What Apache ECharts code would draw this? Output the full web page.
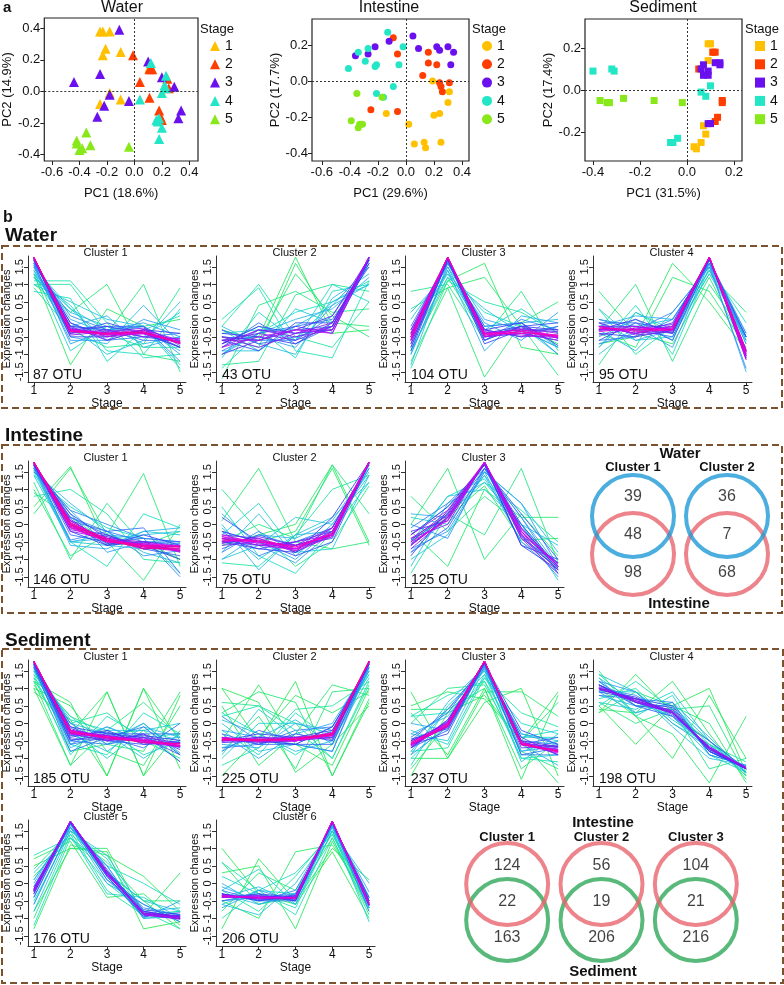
<!DOCTYPE html>
<html><head><meta charset="utf-8">
<script src="https://cdn.jsdelivr.net/npm/echarts@6/dist/echarts.min.js"></script>
<style>html,body{margin:0;padding:0;background:#fff}#c{width:784px;height:985px}</style>
</head><body><div id="c"></div>
<script>
// ---------------- DATA ----------------
const stages = ['1','2','3','4','5'];
const stageLabels = [1,2,3,4,5];
// PCoA points per stage [PC1, PC2]
const waterPC = [
  [[-0.25,0.38],[-0.23,0.38],[-0.18,0.38],[-0.21,0.27],[-0.23,0.23],[-0.10,0.25],[-0.18,-0.01],[-0.25,-0.08],[-0.10,-0.05],[0.11,0.15]],
  [[-0.01,0.23],[0.04,0.06],[0.11,0.14],[0.13,0.14],[0.11,-0.04],[0.18,-0.12],[0.20,-0.18],[0.24,0.08],[0.25,0.02],[0.19,-0.16]],
  [[-0.11,0.39],[-0.44,0.06],[-0.25,0.11],[-0.18,-0.02],[-0.22,-0.09],[-0.04,-0.06],[-0.27,-0.16],[0.10,0.19],[0.20,0.09],[0.29,0.03],[0.34,-0.12],[0.32,-0.17]],
  [[0.12,0.18],[0.23,0.10],[0.04,-0.05],[0.20,-0.01],[0.23,0.02],[0.16,-0.18],[0.17,-0.19],[0.20,-0.23],[0.18,-0.30],[0.22,0.04],[0.18,-0.17]],
  [[-0.35,-0.26],[-0.42,-0.31],[-0.42,-0.33],[-0.40,-0.37],[-0.38,-0.36],[-0.32,-0.34],[-0.04,-0.35]]
];
const intestinePC = [
  [[0.19,0.0],[0.31,-0.06],[0.30,-0.12],[0.24,-0.18],[0.20,-0.19],[-0.14,-0.18],[0.02,-0.24],[0.06,-0.35],[0.13,-0.34],[0.14,-0.37],[0.25,-0.34]],
  [[-0.09,0.24],[-0.06,0.15],[0.16,0.16],[0.16,0.10],[0.22,0.09],[0.12,0.03],[0.24,-0.01],[0.25,-0.03],[0.26,-0.06],[0.31,-0.01],[-0.25,-0.16],[-0.06,-0.17]],
  [[-0.36,0.14],[-0.27,0.15],[-0.22,0.19],[-0.12,0.22],[0.05,0.25],[0.09,0.18],[0.22,0.19],[0.24,0.17],[0.30,0.19],[0.34,0.16],[0.32,0.09]],
  [[-0.41,0.07],[-0.34,0.16],[-0.27,0.18],[-0.29,0.11],[-0.21,0.09],[-0.22,0.08],[-0.13,0.27],[-0.02,0.19],[-0.05,0.09],[-0.09,-0.03],[-0.21,-0.07],[-0.16,-0.09]],
  [[-0.35,-0.07],[-0.17,-0.09],[-0.39,-0.22],[-0.33,-0.24],[-0.31,-0.24],[-0.34,-0.26]]
];
const sedimentPC = [
  [[0.09,0.22],[0.10,0.22],[0.11,0.18],[0.09,0.14],[0.07,-0.17],[0.08,-0.21],[0.03,-0.27],[0.04,-0.28],[0.06,-0.25]],
  [[0.11,0.18],[0.12,0.18],[0.05,0.10],[0.15,-0.05],[0.15,-0.06],[0.13,-0.13],[0.12,-0.15]],
  [[0.06,0.10],[0.07,0.12],[0.09,0.09],[0.07,0.07],[0.09,0.07],[0.12,0.13],[0.14,0.13],[0.14,0.12],[0.09,-0.16],[0.10,-0.16]],
  [[-0.40,0.09],[-0.32,0.10],[-0.31,0.09],[0.10,0.02],[0.06,-0.01],[0.08,-0.03],[-0.04,-0.23],[-0.07,-0.25],[-0.06,-0.25]],
  [[-0.37,-0.05],[-0.34,-0.06],[-0.33,-0.06],[-0.27,-0.04],[-0.14,-0.05],[-0.02,-0.06]]
];
const pcWaterX = [-0.6,-0.4,-0.2,0,0.2,0.4], pcWaterY = [-0.4,-0.2,0,0.2,0.4];
const pcIntX = [-0.6,-0.4,-0.2,0,0.2,0.4], pcIntY = [-0.4,-0.2,0,0.2];
const pcSedX = [-0.4,-0.2,0,0.2], pcSedY = [-0.2,0,0.2];

// Cluster profiles: each row = [membership, stage1..stage5]
const waterC1 = [[0.05,1.3,-1.3,0.3,-0.2,0.0],[0.08,1.0,0.2,1.0,-1.0,-1.2],[0.10,1.2,-0.3,-0.4,1.0,-1.5],[0.12,0.9,-0.3,-0.8,-0.7,0.9],[0.15,1.0,1.0,-0.4,-0.8,-0.8],[0.18,1.1,1.1,-0.1,-1.1,-1.0],[0.2,0.8,0.6,-1.2,-0.3,0.1],[0.22,1.2,0.4,-0.9,-1.0,0.3],[0.25,1.4,-0.9,-0.2,-0.5,0.2],[0.28,1.3,0.3,-0.3,-0.2,-1.4],[0.3,1.5,0.3,-0.6,-0.3,-0.9],[0.3,1.0,0.5,0.0,-0.2,-1.3],[0.32,1.3,-0.2,-1.0,-0.6,0.5],[0.33,1.2,0.2,-0.2,-0.7,-0.5],[0.35,1.5,-0.5,-0.7,0.4,-0.7],[0.38,1.4,-0.2,0.1,-0.8,-0.5],[0.4,1.6,0.0,-0.4,-0.2,-1.0],[0.42,1.6,-0.7,-0.3,-0.1,-0.5],[0.42,1.5,-0.6,-0.6,0.0,-0.3],[0.45,1.6,0.1,-0.3,-0.2,-1.2],[0.47,1.6,-0.1,-0.6,-0.5,-0.4],[0.5,1.7,-0.2,-0.3,-0.6,-0.6],[0.5,1.55,-0.4,-0.2,-0.2,-0.75],[0.52,1.65,-0.2,-0.3,-0.5,-0.65],[0.55,1.7,-0.4,-0.1,-0.4,-0.8],[0.57,1.7,-0.5,-0.5,-0.3,-0.4],[0.6,1.7,-0.1,-0.5,-0.3,-0.8],[0.62,1.7,-0.3,-0.2,-0.4,-0.8],[0.65,1.75,-0.3,-0.4,-0.4,-0.65],[0.67,1.72,-0.25,-0.45,-0.35,-0.67],[0.7,1.75,-0.2,-0.6,-0.3,-0.6],[0.72,1.74,-0.45,-0.35,-0.25,-0.69],[0.75,1.76,-0.4,-0.3,-0.5,-0.55],[0.78,1.76,-0.28,-0.38,-0.42,-0.68],[0.8,1.77,-0.3,-0.5,-0.4,-0.6],[0.82,1.77,-0.32,-0.42,-0.38,-0.65],[0.85,1.77,-0.35,-0.4,-0.3,-0.7],[0.88,1.77,-0.3,-0.4,-0.4,-0.67],[0.9,1.78,-0.3,-0.45,-0.4,-0.65],[0.92,1.78,-0.33,-0.43,-0.37,-0.65],[0.95,1.78,-0.35,-0.4,-0.35,-0.7]];
const waterC2 = [[0.05,-0.6,-0.5,1.78,-0.4,-0.3],[0.07,-0.5,-0.8,1.6,-0.1,-0.2],[0.08,-0.3,-0.6,1.3,0.1,-0.5],[0.1,-1.7,0.4,0.8,0.2,0.3],[0.12,-1.3,-1.2,0.7,1.0,0.8],[0.15,-0.2,1.0,-0.5,-0.8,0.5],[0.18,0.0,0.9,-0.9,-1.1,1.1],[0.2,-1.4,-0.4,0.2,0.5,1.1],[0.22,-0.4,-0.3,-1.1,0.8,1.0],[0.25,-1.1,0.2,-0.6,1.0,0.5],[0.28,-0.7,-0.2,-0.6,0.5,1.0],[0.3,-0.9,-0.9,0.3,-0.1,1.6],[0.32,-0.3,-0.9,-0.2,0.4,1.0],[0.35,-0.2,-0.7,-1.0,0.6,1.3],[0.36,-1.0,-0.4,0.0,0.3,1.2],[0.4,-1.0,-0.3,-0.3,-0.2,1.7],[0.42,-0.6,-0.5,-0.8,0.4,1.5],[0.45,-0.5,-0.6,-0.6,0.1,1.6],[0.48,-0.9,-0.4,-0.2,0.0,1.5],[0.5,-0.8,-0.1,-0.7,-0.2,1.7],[0.52,-0.3,-0.7,-0.5,-0.2,1.7],[0.55,-0.6,-0.9,-0.1,-0.1,1.7],[0.58,-0.7,-0.2,-0.4,-0.3,1.6],[0.6,-0.4,-0.5,-0.7,-0.1,1.75],[0.62,-0.5,-0.6,-0.2,-0.4,1.7],[0.65,-1.0,-0.6,-0.3,0.1,1.75],[0.68,-0.6,-0.4,-0.6,-0.2,1.78],[0.7,-0.7,-0.3,-0.5,-0.3,1.78],[0.72,-0.8,-0.3,-0.4,-0.2,1.78],[0.75,-0.5,-0.8,-0.4,-0.1,1.78],[0.78,-0.6,-0.6,-0.3,-0.3,1.78],[0.8,-0.8,-0.5,-0.3,-0.4,1.78]];
const waterC3 = [[0.05,-0.9,1.1,1.6,-0.8,-1.0],[0.07,-1.2,0.9,1.2,-0.2,-0.7],[0.08,0.3,0.9,-1.65,-0.1,0.5],[0.1,-0.6,1.2,-0.5,0.8,-0.9],[0.12,0.8,1.0,-0.6,-0.2,-1.6],[0.15,-1.4,1.1,0.5,0.2,-0.4],[0.2,-0.3,1.3,0.2,-0.2,-1.0],[0.25,-1.0,1.4,-0.3,0.3,-0.4],[0.3,0.0,1.5,-0.6,-0.1,-0.8],[0.3,-0.9,1.2,0.3,-0.4,-0.2],[0.33,0.2,1.3,-0.4,-0.3,-0.8],[0.35,-1.3,1.6,-0.2,-0.1,0.0],[0.38,-0.5,1.4,-0.9,0.1,-0.1],[0.4,-0.5,1.6,0.0,-0.3,-0.8],[0.42,-1.0,1.5,-0.1,-0.6,0.2],[0.45,-0.8,1.7,-0.6,0.0,-0.3],[0.47,-0.3,1.6,-0.2,-0.1,-1.0],[0.5,-0.2,1.7,-0.5,-0.4,-0.6],[0.52,-0.7,1.65,-0.3,-0.5,-0.2],[0.55,-0.9,1.7,-0.5,-0.2,-0.1],[0.57,-0.4,1.7,-0.7,-0.3,-0.3],[0.6,-0.6,1.75,-0.3,-0.1,-0.75],[0.62,-0.8,1.72,-0.4,-0.2,-0.3],[0.65,-0.4,1.75,-0.6,-0.2,-0.55],[0.67,-0.5,1.74,-0.3,-0.5,-0.45],[0.7,-0.7,1.76,-0.4,-0.3,-0.35],[0.72,-0.6,1.76,-0.5,-0.25,-0.4],[0.75,-0.3,1.77,-0.5,-0.4,-0.6],[0.78,-0.45,1.77,-0.35,-0.45,-0.52],[0.8,-0.6,1.78,-0.4,-0.3,-0.5],[0.82,-0.4,1.78,-0.5,-0.35,-0.53],[0.85,-0.5,1.78,-0.45,-0.35,-0.5],[0.88,-0.6,1.78,-0.42,-0.3,-0.46],[0.9,-0.55,1.78,-0.4,-0.4,-0.45],[0.93,-0.5,1.78,-0.45,-0.35,-0.48]];
const waterC4 = [[0.05,-0.7,-0.5,1.6,0.5,-0.9],[0.07,-0.4,-0.8,1.2,0.8,-0.8],[0.08,0.8,-0.4,-0.7,1.2,-0.9],[0.1,-0.3,1.0,-1.2,1.0,-0.5],[0.12,-1.3,0.2,-0.4,1.3,0.2],[0.15,0.3,-1.0,-0.2,1.4,-0.5],[0.2,-0.8,0.4,-1.0,1.5,-0.1],[0.25,-0.2,-0.3,-0.4,1.6,-0.7],[0.28,0.3,-0.6,-0.5,1.3,-0.5],[0.3,-1.0,-0.2,0.0,1.6,-0.4],[0.32,-0.8,0.2,-0.3,1.4,-0.5],[0.35,-0.5,0.0,-0.6,1.7,-0.6],[0.36,-0.3,-0.9,0.2,1.5,-0.5],[0.4,-0.1,-0.6,-0.3,1.7,-0.7],[0.4,-0.2,0.1,0.0,1.6,-1.5],[0.42,0.0,-0.2,-0.8,1.6,-0.6],[0.45,-0.7,-0.4,-0.2,1.7,-0.4],[0.45,0.0,-0.3,0.2,1.5,-1.4],[0.47,-0.6,-0.5,0.0,1.6,-0.5],[0.5,-0.3,-0.3,-0.5,1.75,-0.95],[0.52,-0.1,-0.1,-0.6,1.7,-0.9],[0.55,-0.6,-0.1,-0.3,1.75,-1.05],[0.57,-0.4,-0.5,-0.3,1.7,-0.5],[0.6,-0.2,-0.4,-0.1,1.75,-1.15],[0.62,-0.3,0.0,-0.4,1.75,-1.05],[0.65,-0.2,-0.2,-0.4,1.78,-1.0],[0.67,-0.45,-0.25,-0.15,1.76,-0.9],[0.7,-0.3,-0.3,-0.2,1.78,-1.1],[0.72,-0.1,-0.45,-0.35,1.77,-0.87],[0.75,-0.2,-0.4,-0.3,1.78,-1.05],[0.78,-0.3,-0.3,-0.25,1.78,-0.93],[0.8,-0.3,-0.2,-0.3,1.78,-1.15],[0.82,-0.2,-0.4,-0.2,1.78,-0.98],[0.85,-0.25,-0.3,-0.25,1.78,-1.1],[0.88,-0.35,-0.25,-0.3,1.78,-0.88],[0.9,-0.2,-0.35,-0.3,1.78,-1.0],[0.93,-0.25,-0.3,-0.3,1.78,-0.93]];
const intestineC1 = [[0.05,0.5,1.65,-0.6,-0.5,-1.0],[0.07,0.3,1.6,-0.3,-0.6,-1.0],[0.08,1.0,-0.9,-0.3,1.45,-1.2],[0.1,0.9,0.2,-0.5,-1.6,0.0],[0.12,1.2,-1.0,0.6,-0.6,-0.2],[0.15,0.8,1.0,0.3,-1.0,-1.1],[0.2,1.5,-0.5,-1.2,0.3,-0.1],[0.25,1.4,0.5,-0.1,-0.4,-1.4],[0.3,1.6,-0.5,-0.6,-0.2,-0.3],[0.3,1.4,-0.5,-0.4,-0.3,-0.2],[0.34,1.5,0.6,-0.2,-0.8,-1.1],[0.35,1.6,0.4,-0.6,-0.7,-0.7],[0.38,1.6,-0.6,-0.7,-0.2,-0.1],[0.4,1.7,-0.5,-0.3,-0.4,-0.5],[0.42,1.55,0.3,-0.8,-0.5,-0.55],[0.45,1.65,0.2,-0.2,-0.9,-0.75],[0.45,1.5,0.4,0.0,-0.4,-1.5],[0.47,1.65,-0.45,-0.2,-0.5,-0.5],[0.5,1.7,-0.3,-0.5,-0.4,-0.5],[0.5,1.6,0.1,-0.2,-0.1,-1.4],[0.52,1.7,0.2,-0.3,-0.7,-0.9],[0.55,1.7,0.3,-0.4,-0.6,-1.0],[0.57,1.7,-0.2,-0.6,-0.3,-0.6],[0.6,1.7,0.0,-0.6,-0.5,-0.6],[0.62,1.72,0.15,-0.55,-0.55,-0.77],[0.65,1.72,-0.1,-0.3,-0.7,-0.62],[0.67,1.74,-0.15,-0.35,-0.6,-0.64],[0.7,1.74,0.1,-0.5,-0.6,-0.74],[0.72,1.75,0.05,-0.5,-0.5,-0.8],[0.75,1.75,-0.2,-0.4,-0.5,-0.65],[0.77,1.76,-0.05,-0.4,-0.7,-0.61],[0.8,1.76,0.0,-0.45,-0.6,-0.71],[0.82,1.77,0.1,-0.45,-0.65,-0.77],[0.85,1.77,-0.1,-0.5,-0.55,-0.62],[0.87,1.77,-0.08,-0.48,-0.58,-0.63],[0.9,1.78,0.0,-0.4,-0.65,-0.73],[0.92,1.78,0.02,-0.42,-0.62,-0.76],[0.93,1.78,-0.05,-0.5,-0.6,-0.63],[0.95,1.78,-0.02,-0.47,-0.64,-0.65],[0.96,1.78,0.05,-0.45,-0.7,-0.68]];
const intestineC2 = [[0.05,-0.6,-0.3,0.0,1.7,-0.5],[0.07,-0.4,-0.5,-0.2,1.6,-0.6],[0.08,0.1,1.6,-0.5,-0.7,-0.5],[0.1,-0.5,0.0,-0.4,1.7,0.3],[0.12,1.0,-0.2,-1.2,-0.5,1.1],[0.15,-1.1,-1.2,-0.3,1.0,1.4],[0.2,0.5,-0.9,-1.4,-0.2,1.2],[0.25,-0.3,0.6,-0.8,-0.7,1.4],[0.3,-1.0,-0.6,0.2,0.0,1.5],[0.3,-0.1,-1.0,-0.3,0.2,1.2],[0.34,-0.8,0.3,-0.9,0.0,1.4],[0.35,0.0,-1.3,-0.3,-0.2,1.6],[0.38,-1.0,-0.3,-0.4,0.1,1.6],[0.4,-0.2,-0.5,-1.0,-0.1,1.7],[0.42,0.3,-0.6,-1.1,-0.2,1.6],[0.45,-0.8,-0.2,-0.8,-0.2,1.7],[0.47,-0.2,-0.9,-0.5,-0.1,1.7],[0.5,-0.5,-0.6,-0.6,-0.3,1.75],[0.52,-0.7,-0.3,-0.6,-0.4,1.78],[0.55,0.2,-0.5,-0.9,-0.5,1.75],[0.57,-0.5,-0.7,-0.8,0.2,1.78],[0.6,-0.4,-0.7,-0.5,-0.2,1.78],[0.62,-0.2,-0.5,-0.7,-0.35,1.75],[0.65,-0.3,-0.4,-0.8,-0.3,1.78],[0.67,-0.55,-0.35,-0.6,-0.3,1.78],[0.7,-0.6,-0.5,-0.6,-0.1,1.78],[0.72,-0.35,-0.6,-0.5,-0.3,1.78],[0.75,-0.4,-0.6,-0.7,-0.3,1.78],[0.77,-0.5,-0.45,-0.75,-0.1,1.78],[0.8,-0.5,-0.4,-0.7,-0.2,1.78],[0.82,-0.4,-0.5,-0.6,-0.3,1.78],[0.85,-0.3,-0.55,-0.75,-0.35,1.78],[0.87,-0.35,-0.5,-0.7,-0.25,1.78],[0.9,-0.45,-0.5,-0.65,-0.25,1.78],[0.92,-0.45,-0.45,-0.65,-0.3,1.78]];
const intestineC3 = [[0.05,-0.45,0.2,1.1,-0.45,-0.4],[0.07,-0.2,-1.2,1.0,0.2,0.2],[0.08,0.0,1.6,-1.0,0.3,-0.9],[0.1,-0.5,0.3,-0.3,1.6,-1.1],[0.12,0.8,-0.2,0.8,0.0,-1.4],[0.15,-1.4,0.3,1.2,0.4,-0.5],[0.2,-0.6,0.8,1.3,-0.2,-1.3],[0.25,0.2,0.0,1.4,0.0,-1.6],[0.3,-1.0,-0.3,1.5,0.6,-0.8],[0.3,-0.5,0.8,1.0,0.0,-1.3],[0.34,-1.2,0.6,1.2,0.0,-0.6],[0.35,-0.3,0.5,1.5,-0.5,-1.2],[0.38,0.3,0.2,1.4,-0.5,-1.4],[0.4,-0.8,0.2,1.6,0.2,-1.2],[0.42,-0.7,-0.2,1.5,0.6,-1.2],[0.45,0.0,-0.4,1.6,0.2,-1.4],[0.47,-0.1,0.6,1.6,-0.3,-1.5],[0.5,-0.5,0.3,1.7,-0.4,-1.1],[0.52,-0.8,-0.1,1.6,0.3,-1.0],[0.55,-0.9,0.4,1.7,0.0,-1.2],[0.57,-0.3,0.5,1.7,-0.6,-1.3],[0.6,-0.2,0.1,1.75,-0.6,-1.0],[0.62,-0.6,0.2,1.72,-0.1,-1.2],[0.65,-0.6,0.3,1.75,-0.2,-1.25],[0.67,-0.45,0.35,1.75,-0.35,-1.3],[0.7,-0.4,0.0,1.78,-0.3,-1.1],[0.72,-0.55,0.15,1.76,-0.15,-1.2],[0.75,-0.7,0.2,1.78,-0.1,-1.2],[0.77,-0.4,0.25,1.78,-0.3,-1.3],[0.8,-0.3,0.4,1.78,-0.4,-1.4],[0.82,-0.6,0.2,1.78,-0.25,-1.13],[0.85,-0.5,0.1,1.78,-0.2,-1.2]];
const sedimentC1 = [[0.03,1.0,-1.2,0.9,-1.5,0.8],[0.04,1.2,0.6,-1.5,1.0,-1.3],[0.05,0.9,0.1,-1.5,1.0,-0.5],[0.06,1.1,-0.3,0.9,-1.5,-0.2],[0.07,1.0,0.5,-0.8,-1.2,0.5],[0.08,1.3,-0.8,-0.6,-0.8,0.9],[0.1,1.2,-1.2,-0.2,0.6,-0.4],[0.12,1.4,0.2,-0.3,-0.2,-1.1],[0.15,1.2,0.0,0.3,-0.5,-1.0],[0.18,1.3,0.2,-0.6,0.0,-0.9],[0.2,1.5,-0.6,-0.9,0.3,-0.3],[0.22,1.4,-0.9,0.2,-0.4,-0.3],[0.25,1.5,0.1,-0.2,-0.9,-0.5],[0.27,1.5,-0.2,-1.0,-0.2,0.0],[0.3,1.6,-0.7,-0.2,-0.2,-0.5],[0.32,1.55,0.0,-0.3,-1.0,-0.3],[0.35,1.6,-0.3,-0.8,-0.1,-0.4],[0.37,1.6,-0.6,-0.1,-0.5,-0.4],[0.4,1.65,-0.5,-0.1,-0.5,-0.55],[0.42,1.65,-0.3,-0.5,0.0,-0.85],[0.45,1.7,0.0,-0.6,-0.4,-0.7],[0.47,1.7,-0.5,-0.6,-0.3,-0.3],[0.5,1.7,-0.6,-0.4,-0.7,0.0],[0.5,1.6,-0.8,-0.4,-0.1,-0.9],[0.52,1.7,-0.1,-0.5,-0.6,-0.5],[0.55,1.7,-0.1,-0.3,-0.4,-0.9],[0.55,1.65,-0.5,-0.3,-0.3,-1.1],[0.57,1.72,-0.35,-0.25,-0.55,-0.57],[0.6,1.75,-0.4,-0.2,-0.6,-0.55],[0.62,1.74,-0.45,-0.45,-0.35,-0.49],[0.65,1.75,-0.2,-0.5,-0.3,-0.75],[0.67,1.75,-0.15,-0.45,-0.5,-0.65],[0.7,1.76,-0.3,-0.35,-0.45,-0.66],[0.72,1.76,-0.3,-0.5,-0.4,-0.56],[0.75,1.77,-0.2,-0.4,-0.5,-0.67],[0.77,1.77,-0.2,-0.35,-0.55,-0.67],[0.8,1.77,-0.25,-0.35,-0.5,-0.67],[0.82,1.77,-0.28,-0.42,-0.48,-0.59],[0.85,1.78,-0.3,-0.4,-0.45,-0.63],[0.87,1.78,-0.22,-0.4,-0.52,-0.64],[0.9,1.78,-0.2,-0.45,-0.5,-0.63],[0.92,1.78,-0.27,-0.38,-0.5,-0.63],[0.95,1.78,-0.25,-0.4,-0.55,-0.58]];
const sedimentC2 = [[0.03,1.0,-0.5,1.2,-1.5,0.6],[0.04,-0.5,1.1,-0.6,-1.2,1.0],[0.05,1.0,0.6,-1.4,-0.6,0.5],[0.06,-1.5,-0.4,0.8,0.3,0.9],[0.07,0.5,-1.2,-0.3,1.1,0.8],[0.08,0.3,0.9,0.6,-1.5,0.7],[0.1,-0.8,0.2,-1.3,0.9,1.0],[0.12,0.6,0.5,0.0,-1.0,1.2],[0.15,-1.2,-0.7,0.4,0.5,1.2],[0.18,0.2,0.5,-0.2,-1.0,1.1],[0.2,0.3,-0.3,-0.9,-0.2,1.4],[0.22,-0.2,-0.9,0.3,-0.5,1.3],[0.25,-1.0,0.0,0.0,-0.3,1.5],[0.27,-0.9,0.4,-0.4,-0.3,1.4],[0.3,0.0,-0.8,-0.6,-0.1,1.6],[0.32,0.1,-0.3,-0.8,-0.5,1.5],[0.35,-0.7,-0.4,0.1,-0.6,1.6],[0.37,-0.6,-0.7,0.0,-0.2,1.5],[0.4,-0.3,-1.0,-0.3,0.0,1.65],[0.42,-0.2,-0.4,-0.6,-0.8,1.6],[0.45,0.2,-0.5,-0.6,-0.8,1.7],[0.47,-0.7,-0.6,-0.2,-0.1,1.6],[0.5,-0.8,-0.2,-0.5,-0.3,1.75],[0.52,-0.3,-0.6,-0.6,-0.6,1.7],[0.55,-0.4,-0.6,-0.3,-0.5,1.75],[0.57,-0.5,-0.3,-0.4,-0.4,1.7],[0.6,-0.5,-0.5,-0.6,-0.1,1.7],[0.62,-0.55,-0.5,-0.4,-0.2,1.72],[0.65,-0.5,-0.4,-0.5,-0.3,1.72],[0.67,-0.4,-0.55,-0.5,-0.4,1.75],[0.7,-0.4,-0.5,-0.45,-0.35,1.75],[0.72,-0.5,-0.4,-0.4,-0.45,1.76],[0.75,-0.45,-0.45,-0.5,-0.3,1.76],[0.77,-0.45,-0.5,-0.5,-0.25,1.77],[0.8,-0.5,-0.5,-0.4,-0.35,1.77],[0.82,-0.5,-0.45,-0.45,-0.3,1.77],[0.85,-0.4,-0.5,-0.5,-0.3,1.77],[0.87,-0.42,-0.48,-0.5,-0.35,1.78],[0.9,-0.45,-0.45,-0.45,-0.35,1.78],[0.92,-0.48,-0.5,-0.42,-0.28,1.78],[0.95,-0.45,-0.5,-0.45,-0.3,1.78],[0.97,-0.45,-0.47,-0.46,-0.32,1.78]];
const sedimentC3 = [[0.03,0.9,-1.0,0.6,1.0,-1.5],[0.04,-1.5,0.3,0.8,-0.5,0.9],[0.05,0.3,-0.9,1.0,-1.6,0.8],[0.06,0.5,0.9,0.7,-0.5,-1.7],[0.07,-1.0,-1.0,0.9,0.9,0.2],[0.08,0.4,0.4,1.0,-1.3,-0.5],[0.1,-1.3,0.0,1.2,-0.5,0.6],[0.12,0.0,1.0,1.1,-0.8,-1.3],[0.15,-0.8,-0.7,1.3,0.3,-0.1],[0.18,0.2,0.8,1.2,-1.0,-1.1],[0.2,0.2,0.3,1.4,-1.0,-0.9],[0.22,-1.0,0.0,1.3,0.0,-0.3],[0.25,-1.2,0.5,1.5,-0.4,-0.4],[0.27,-0.2,-0.6,1.4,-0.4,-0.2],[0.3,-0.3,-0.5,1.6,-0.3,-0.5],[0.32,-0.8,0.4,1.5,-1.1,-0.3],[0.35,-0.9,0.6,1.6,-0.8,-0.5],[0.37,-0.3,0.2,1.55,-0.6,-1.2],[0.4,0.0,-0.2,1.65,-0.8,-0.65],[0.42,-0.9,-0.1,1.6,-0.3,-0.6],[0.45,-0.7,0.1,1.7,-0.5,-0.6],[0.47,-0.5,0.4,1.65,-0.9,-0.9],[0.5,-0.4,0.3,1.7,-0.9,-0.7],[0.52,-0.7,-0.2,1.7,-0.6,-0.4],[0.55,-0.6,-0.3,1.72,-0.2,-0.6],[0.57,-0.45,-0.15,1.72,-0.4,-0.9],[0.6,-0.5,0.0,1.75,-0.6,-0.65],[0.62,-0.65,0.05,1.75,-0.7,-0.65],[0.65,-0.7,0.1,1.76,-0.5,-0.66],[0.67,-0.5,-0.1,1.76,-0.5,-0.9],[0.7,-0.6,-0.1,1.77,-0.6,-0.8],[0.72,-0.7,0.0,1.77,-0.55,-0.7],[0.75,-0.55,0.05,1.77,-0.6,-0.75],[0.77,-0.58,-0.08,1.78,-0.6,-0.85],[0.8,-0.65,-0.05,1.78,-0.55,-0.8],[0.82,-0.62,0.02,1.78,-0.62,-0.75],[0.85,-0.6,0.0,1.78,-0.6,-0.78],[0.87,-0.55,-0.02,1.78,-0.58,-0.82],[0.9,-0.6,-0.1,1.78,-0.55,-0.82],[0.92,-0.6,-0.06,1.78,-0.6,-0.78],[0.95,-0.55,-0.05,1.78,-0.6,-0.8]];
const sedimentC4 = [[0.03,0.3,1.4,0.3,-0.5,-1.5],[0.04,0.5,-0.6,0.5,1.0,-1.4],[0.05,1.0,0.2,-1.0,0.8,-1.0],[0.06,0.4,0.3,1.2,-0.3,-1.6],[0.07,1.5,0.2,-0.3,-1.7,0.2],[0.08,0.3,0.9,0.5,0.0,-1.7],[0.1,0.6,0.0,0.4,0.5,-1.5],[0.12,1.4,0.5,0.4,-1.3,-1.0],[0.15,0.7,1.0,0.0,-0.6,-1.1],[0.18,0.5,1.2,0.4,-0.6,-1.5],[0.2,1.2,0.3,0.6,-0.8,-1.3],[0.22,1.3,0.2,0.8,-0.9,-1.4],[0.25,0.9,0.9,0.1,-0.6,-1.3],[0.27,0.6,0.4,0.9,-0.5,-1.4],[0.3,1.3,0.6,0.2,-0.9,-1.2],[0.32,1.4,0.9,-0.1,-1.0,-1.2],[0.35,0.8,0.5,0.5,-0.5,-1.3],[0.37,0.9,0.3,0.6,-0.4,-1.4],[0.4,1.1,0.7,0.3,-0.8,-1.3],[0.42,1.2,0.9,0.0,-0.7,-1.4],[0.45,1.0,0.8,0.2,-0.7,-1.3],[0.47,0.8,0.7,0.6,-0.9,-1.2],[0.5,1.2,0.5,0.4,-0.8,-1.3],[0.52,1.1,0.5,0.2,-0.5,-1.3],[0.55,0.9,0.7,0.5,-0.8,-1.3],[0.57,1.0,0.6,0.45,-0.8,-1.25],[0.6,1.1,0.6,0.3,-0.7,-1.3],[0.62,0.95,0.75,0.25,-0.65,-1.3],[0.65,1.0,0.7,0.35,-0.75,-1.3],[0.67,1.1,0.6,0.3,-0.75,-1.25],[0.7,1.05,0.65,0.3,-0.7,-1.3],[0.72,0.98,0.7,0.32,-0.72,-1.28],[0.75,1.0,0.65,0.35,-0.7,-1.3],[0.77,1.02,0.62,0.3,-0.68,-1.26]];
const sedimentC5 = [[0.03,0.5,1.0,0.9,-1.3,-1.1],[0.04,-1.3,1.1,0.8,0.2,-0.8],[0.05,0.7,1.2,-0.4,-0.3,-1.2],[0.06,-0.8,1.0,1.0,-0.9,0.3],[0.08,0.2,1.3,0.3,-0.5,-1.3],[0.1,-1.0,1.4,0.6,-0.5,-0.5],[0.15,0.4,1.5,-0.2,-0.9,-0.8],[0.18,0.8,1.3,0.0,-0.8,-1.3],[0.2,-0.5,1.5,0.7,-0.9,-0.8],[0.22,-1.2,1.3,0.5,0.0,-0.6],[0.25,0.1,1.6,0.2,-1.0,-0.9],[0.27,0.3,1.4,-0.3,-0.4,-1.0],[0.3,-0.6,1.6,0.3,-0.5,-0.8],[0.32,-0.8,1.5,0.8,-0.8,-0.7],[0.35,-0.2,1.65,0.5,-1.0,-0.95],[0.37,0.1,1.6,0.0,-0.6,-1.1],[0.4,0.0,1.7,0.1,-0.8,-1.0],[0.42,-0.6,1.6,0.5,-1.0,-0.5],[0.45,-0.4,1.7,0.3,-0.7,-0.9],[0.47,-0.1,1.7,0.1,-0.6,-1.1],[0.5,-0.1,1.72,0.2,-0.9,-0.92],[0.52,-0.4,1.72,0.35,-0.75,-0.9],[0.55,-0.3,1.74,0.4,-0.9,-0.94],[0.57,-0.15,1.74,0.2,-0.95,-0.84],[0.6,-0.2,1.75,0.3,-0.85,-1.0],[0.62,-0.3,1.76,0.3,-0.8,-0.96],[0.65,-0.25,1.76,0.25,-0.8,-0.96],[0.67,-0.2,1.77,0.35,-0.9,-1.02],[0.7,-0.15,1.77,0.3,-0.9,-1.02],[0.72,-0.25,1.78,0.25,-0.85,-0.93],[0.75,-0.2,1.77,0.25,-0.85,-0.97],[0.77,-0.18,1.78,0.28,-0.88,-1.0],[0.8,-0.2,1.78,0.3,-0.88,-1.0]];
const sedimentC6 = [[0.03,1.0,-0.3,-0.6,0.9,-1.0],[0.04,-1.3,0.7,-0.5,1.0,0.1],[0.05,0.3,0.5,-1.3,1.2,-0.7],[0.06,-0.5,-1.0,0.9,1.1,-0.5],[0.08,0.6,-0.6,-0.4,1.3,-0.9],[0.1,-0.8,0.3,-0.2,1.4,-0.7],[0.15,-0.2,-0.8,0.2,1.5,-0.7],[0.18,0.6,-0.2,-0.9,1.3,-0.8],[0.2,0.2,-0.3,-0.7,1.5,-0.7],[0.22,-1.0,-0.2,0.3,1.4,-0.5],[0.25,-0.6,-0.2,-0.3,1.6,-0.5],[0.27,-0.2,0.4,-0.6,1.5,-1.1],[0.3,-0.3,-0.6,-0.3,1.6,-0.4],[0.32,-0.6,-0.9,0.0,1.5,0.0],[0.35,-0.4,-0.1,-0.6,1.65,-0.55],[0.37,0.0,-0.6,-0.3,1.6,-0.7],[0.4,-0.1,-0.5,-0.4,1.7,-0.7],[0.42,-0.7,-0.2,-0.5,1.65,-0.25],[0.45,-0.5,-0.4,-0.3,1.7,-0.5],[0.47,-0.2,-0.5,-0.2,1.7,-0.8],[0.5,-0.3,-0.5,-0.5,1.72,-0.42],[0.52,-0.5,-0.3,-0.5,1.72,-0.4],[0.55,-0.4,-0.3,-0.4,1.74,-0.64],[0.57,-0.3,-0.5,-0.35,1.74,-0.6],[0.6,-0.35,-0.45,-0.45,1.75,-0.5],[0.62,-0.4,-0.35,-0.5,1.76,-0.5],[0.65,-0.4,-0.4,-0.35,1.76,-0.6],[0.67,-0.32,-0.45,-0.38,1.77,-0.62],[0.7,-0.3,-0.45,-0.4,1.77,-0.62],[0.72,-0.38,-0.38,-0.42,1.78,-0.6],[0.75,-0.4,-0.35,-0.45,1.77,-0.57],[0.77,-0.35,-0.42,-0.4,1.78,-0.61],[0.8,-0.35,-0.4,-0.4,1.78,-0.63],[0.85,-0.36,-0.4,-0.41,1.78,-0.6],[0.9,-0.38,-0.42,-0.42,1.78,-0.56]];
const yTicksExpr = [-1.5,-1,-0.5,0,0.5,1,1.5];

// Venn counts
const vennWI_clusters = ['Cluster 1','Cluster 2'];
const vennWI_waterOnly = [39,36], vennWI_both = [48,7], vennWI_intOnly = [98,68];
const vennIS_clusters = ['Cluster 1','Cluster 2','Cluster 3'];
const vennIS_intOnly = [124,56,104], vennIS_both = [22,19,21], vennIS_sedOnly = [163,206,216];

// ---------------- BUILD ----------------
const FONT = '"Liberation Sans", Arial, Helvetica, sans-serif';
const STAGE_COLORS = ['#FFC000','#FF3D00','#6A10EE','#22E6C6','#88E81A'];
const grids = [], xAxes = [], yAxes = [], series = [], graphics = [], legends = [];

function memColor(m){
  const st = [[0,[40,235,60]],[0.2,[20,225,190]],[0.4,[40,170,240]],[0.58,[50,60,245]],[0.74,[140,20,245]],[0.87,[235,0,230]],[1,[255,0,110]]];
  for(let i=1;i<st.length;i++){ if(m<=st[i][0]){ const a=st[i-1],b=st[i],t=(m-a[0])/(b[0]-a[0]);
    const c=a[1].map((v,k)=>Math.round(v+(b[1][k]-v)*t)); return 'rgb('+c.join(',')+')'; } }
  return 'rgb(255,0,110)';
}
function txt(x,y,text,size,bold,align){
  graphics.push({type:'text', x:x, y:y, z:100, style:{text:text, fontFamily:FONT, fontSize:size, fontWeight:bold?'bold':'normal', fill:'#111', align:align||'center', verticalAlign:'middle'}});
}

function scatterPanel(g, xr, yr, xt, yt, xName, yName, symbol, size, pts, legendLeft){
  const gi = grids.length;
  grids.push({left:g[0], top:g[1], width:g[2], height:g[3], show:true, borderColor:'#222', borderWidth:1.2, backgroundColor:'transparent'});
  xAxes.push({gridIndex:gi, type:'value', min:xr[0], max:xr[1], axisLine:{show:false, onZero:false},
    axisTick:{show:true, customValues:xt, length:4, lineStyle:{color:'#222'}},
    axisLabel:{customValues:xt, formatter:v=>v.toFixed(1), fontSize:13, color:'#111', fontFamily:FONT, margin:5},
    splitLine:{show:false}, name:xName, nameLocation:'middle', nameGap:26, nameTextStyle:{fontSize:13, color:'#111', fontFamily:FONT}});
  yAxes.push({gridIndex:gi, type:'value', min:yr[0], max:yr[1], axisLine:{show:false, onZero:false},
    axisTick:{show:true, customValues:yt, length:4, lineStyle:{color:'#222'}},
    axisLabel:{customValues:yt, formatter:v=>v.toFixed(1), fontSize:13, color:'#111', fontFamily:FONT, margin:4},
    splitLine:{show:false}, name:yName, nameLocation:'middle', nameGap:29, nameTextStyle:{fontSize:13, color:'#111', fontFamily:FONT}});
  pts.forEach((p,s)=>{
    const ser = {type:'scatter', name:stages[s], xAxisIndex:gi, yAxisIndex:gi, data:p, symbol:symbol, symbolSize:size,
      itemStyle:{color:STAGE_COLORS[s], opacity:1}, animation:false, z:3};
    if(s===0){ ser.markLine = {silent:true, symbol:'none', label:{show:false}, animation:false,
      lineStyle:{type:[2,2], color:'#333', width:1}, data:[{xAxis:0},{yAxis:0}]}; }
    series.push(ser);
  });
  legends.push({left:legendLeft, top:34, orient:'vertical', itemWidth:10, itemHeight:10, itemGap:4.3,
    textStyle:{fontSize:14, color:'#111', fontFamily:FONT}, selectedMode:false,
    data:stages.map(n=>({name:n, icon:symbol})) });
  txt(legendLeft-5, 29, 'Stage', 13, false, 'left');
}

function clusterPanel(L, T, lines, title, count){
  const gi = grids.length, W = 159, H = 126;
  grids.push({left:L, top:T, width:W, height:H});
  xAxes.push({gridIndex:gi, type:'value', min:0.84, max:5.16,
    axisLine:{show:true, onZero:false, lineStyle:{color:'#333', width:1}},
    axisTick:{customValues:stageLabels, length:4, lineStyle:{color:'#333'}},
    axisLabel:{customValues:stageLabels, fontSize:12, color:'#111', fontFamily:FONT, margin:3},
    splitLine:{show:false}, name:'Stage', nameLocation:'middle', nameGap:13, nameTextStyle:{fontSize:12, color:'#111', fontFamily:FONT}});
  yAxes.push({gridIndex:gi, type:'value', min:-1.79, max:1.81,
    axisLine:{show:true, onZero:false, lineStyle:{color:'#333', width:1}},
    axisTick:{customValues:yTicksExpr, length:4, lineStyle:{color:'#333'}},
    axisLabel:{customValues:yTicksExpr, rotate:90, fontSize:11, color:'#111', fontFamily:FONT, margin:3},
    splitLine:{show:false}, name:'Expression changes', nameLocation:'middle', nameGap:16, nameTextStyle:{fontSize:11, color:'#111', fontFamily:FONT}});
  lines.slice().sort((a,b)=>a[0]-b[0]).forEach(r=>{
    series.push({type:'line', xAxisIndex:gi, yAxisIndex:gi, silent:true, animation:false, symbol:'none',
      data:r.slice(1).map((v,k)=>[k+1,v]), lineStyle:{width:1, color:memColor(r[0]), opacity:0.85}});
  });
  txt(L+W/2-1, T-3, title, 11, false, 'center');
  txt(L+6, T+H-7, count+' OTU', 14, false, 'left');
}

function vennPanel(g, cats, topSet, both, botSet, topColor, botColor){
  const gi = grids.length;
  grids.push({left:g[0], top:g[1], width:g[2], height:g[3]});
  xAxes.push({gridIndex:gi, type:'category', data:cats, position:'top', axisLine:{show:false}, axisTick:{show:false},
    axisLabel:{fontSize:13, fontWeight:'bold', color:'#111', fontFamily:FONT, margin:4}});
  yAxes.push({gridIndex:gi, type:'value', min:-1, max:2, show:false});
  const circ = (y,color)=>({type:'scatter', xAxisIndex:gi, yAxisIndex:gi, silent:true, animation:false, symbol:'circle', symbolSize:82,
    data:cats.map((c,i)=>[i,y]), itemStyle:{color:'rgba(0,0,0,0)', borderColor:color, borderWidth:4}, z:4});
  series.push(circ(0,botColor));
  series.push(circ(1,topColor));
  const nums = [];
  cats.forEach((c,i)=>{ nums.push([i,1.5,topSet[i]]); nums.push([i,0.5,both[i]]); nums.push([i,-0.5,botSet[i]]); });
  series.push({type:'scatter', xAxisIndex:gi, yAxisIndex:gi, silent:true, animation:false, symbolSize:1, data:nums,
    itemStyle:{color:'rgba(0,0,0,0)'}, z:6,
    label:{show:true, position:'inside', formatter:p=>String(p.value[2]), fontSize:16, color:'#111', fontFamily:FONT}});
}

// ---- Panel a ----
txt(3, 8, 'a', 15, true, 'left');
scatterPanel([39,18,159,143], [-0.656,0.463], [-0.44,0.465], pcWaterX, pcWaterY, 'PC1 (18.6%)', 'PC2 (14.9%)', 'triangle', 10, waterPC, 205);
scatterPanel([312,19,157,142], [-0.67,0.45], [-0.444,0.344], pcIntX, pcIntY, 'PC1 (29.6%)', 'PC2 (17.7%)', 'circle', 7, intestinePC, 477);
scatterPanel([585,19,157,142], [-0.434,0.234], [-0.338,0.338], pcSedX, pcSedY, 'PC1 (31.5%)', 'PC2 (17.4%)', 'rect', 7, sedimentPC, 750);
txt(122, 8, 'Water', 16, false, 'center');
txt(389, 8, 'Intestine', 16, false, 'center');
txt(663, 8, 'Sediment', 16, false, 'center');

// ---- Panel b ----
txt(3, 218, 'b', 16, true, 'left');
txt(5, 236, 'Water', 19, true, 'left');
txt(5, 436, 'Intestine', 19, true, 'left');
txt(5, 641, 'Sediment', 19, true, 'left');
const boxStyle = {fill:'none', stroke:'#7a5230', lineWidth:2, lineDash:[7,4]};
graphics.push({type:'rect', shape:{x:2, y:246, width:780, height:162}, style:boxStyle, z:1});
graphics.push({type:'rect', shape:{x:2, y:445, width:780, height:168}, style:boxStyle, z:1});
graphics.push({type:'rect', shape:{x:2, y:649, width:781, height:334}, style:boxStyle, z:1});

const colL = [27,216,405,593];
clusterPanel(colL[0], 256, waterC1, 'Cluster 1', 87);
clusterPanel(colL[1], 256, waterC2, 'Cluster 2', 43);
clusterPanel(colL[2], 256, waterC3, 'Cluster 3', 104);
clusterPanel(colL[3], 256, waterC4, 'Cluster 4', 95);
clusterPanel(colL[0], 461, intestineC1, 'Cluster 1', 146);
clusterPanel(colL[1], 461, intestineC2, 'Cluster 2', 75);
clusterPanel(colL[2], 461, intestineC3, 'Cluster 3', 125);
clusterPanel(colL[0], 660, sedimentC1, 'Cluster 1', 185);
clusterPanel(colL[1], 660, sedimentC2, 'Cluster 2', 225);
clusterPanel(colL[2], 660, sedimentC3, 'Cluster 3', 237);
clusterPanel(colL[3], 660, sedimentC4, 'Cluster 4', 198);
clusterPanel(colL[0], 820, sedimentC5, 'Cluster 5', 176);
clusterPanel(colL[1], 820, sedimentC6, 'Cluster 6', 206);

vennPanel([586,478,188,114], vennWI_clusters, vennWI_waterOnly, vennWI_both, vennWI_intOnly, '#1E9AD6', '#E8646E');
txt(680, 454, 'Water', 15, true, 'center');
txt(679, 604, 'Intestine', 15, true, 'center');
vennPanel([460,848,283,108], vennIS_clusters, vennIS_intOnly, vennIS_both, vennIS_sedOnly, '#E8646E', '#2EA85A');
txt(603, 823, 'Intestine', 15, true, 'center');
txt(603, 972, 'Sediment', 15, true, 'center');

const chart = echarts.init(document.getElementById('c'), null, {renderer:'canvas'});
chart.setOption({
  backgroundColor:'#fff', animation:false,
  textStyle:{fontFamily:FONT},
  grid:grids, xAxis:xAxes, yAxis:yAxes, series:series, legend:legends, graphic:graphics
});
</script></body></html>
